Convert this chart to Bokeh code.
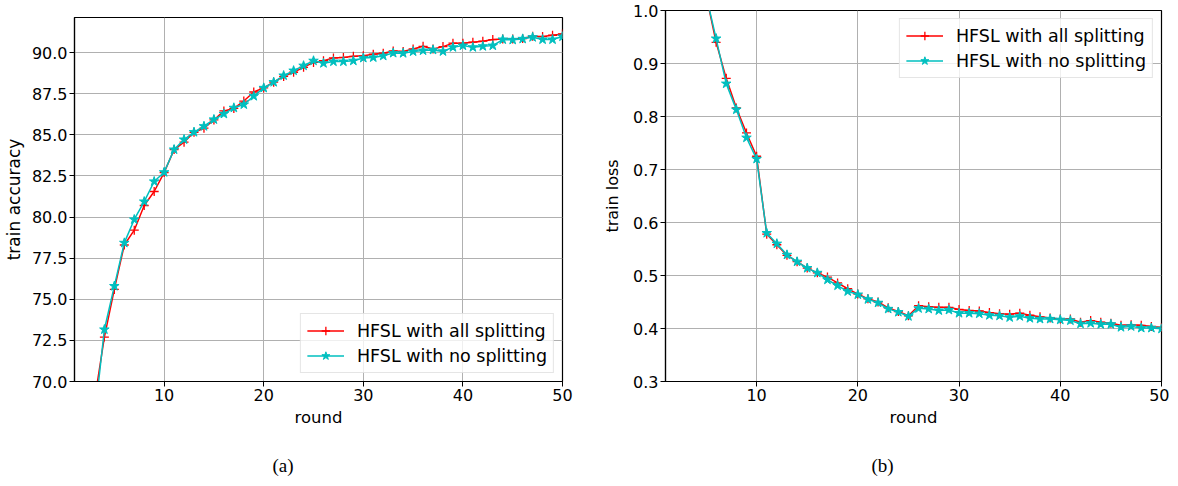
from bokeh.plotting import figure
from bokeh.layouts import row, column
from bokeh.models import FixedTicker, NumeralTickFormatter, Title, Range1d, Spacer
from bokeh.embed import file_html
from bokeh.resources import INLINE

rounds = list(range(1, 51))

acc_all = [50.0, 62.0, 68.8, 72.7, 75.6, 78.3, 79.2, 80.7, 81.55, 82.7,
           84.1, 84.55, 85.15, 85.4, 85.9, 86.45, 86.6, 87.05, 87.6, 87.85,
           88.2, 88.55, 88.8, 89.1, 89.4, 89.5, 89.67, 89.7, 89.77, 89.8,
           89.9, 89.96, 90.1, 90.07, 90.22, 90.38, 90.22, 90.36, 90.57, 90.57,
           90.63, 90.69, 90.79, 90.83, 90.83, 90.85, 90.99, 90.97, 91.05, 91.13]
acc_none = [49.0, 61.0, 67.7, 73.16, 75.8, 78.43, 79.85, 80.94, 82.16, 82.72,
            84.1, 84.71, 85.16, 85.52, 85.93, 86.27, 86.64, 86.84, 87.35, 87.85,
            88.2, 88.6, 88.9, 89.2, 89.5, 89.35, 89.45, 89.45, 89.5, 89.67,
            89.7, 89.8, 89.97, 89.96, 90.06, 90.12, 90.16, 90.07, 90.32, 90.42,
            90.32, 90.38, 90.42, 90.79, 90.77, 90.83, 90.93, 90.79, 90.79, 90.97]

loss_all = [2.0, 1.6, 1.35, 1.15, 1.03, 0.94, 0.872, 0.816, 0.769, 0.725,
            0.578, 0.558, 0.538, 0.526, 0.514, 0.505, 0.497, 0.486, 0.475, 0.465,
            0.456, 0.45, 0.439, 0.432, 0.424, 0.443, 0.441, 0.440, 0.440, 0.436,
            0.434, 0.433, 0.430, 0.428, 0.427, 0.429, 0.425, 0.422, 0.420, 0.418,
            0.418, 0.412, 0.415, 0.412, 0.410, 0.406, 0.407, 0.406, 0.404, 0.402]
loss_none = [2.0, 1.6, 1.34, 1.14, 1.03, 0.947, 0.862, 0.813, 0.76, 0.72,
             0.58, 0.56, 0.539, 0.526, 0.514, 0.505, 0.492, 0.481, 0.470, 0.464,
             0.455, 0.4485, 0.437, 0.431, 0.423, 0.438, 0.437, 0.434, 0.435, 0.429,
             0.429, 0.428, 0.425, 0.424, 0.421, 0.423, 0.4195, 0.418, 0.418, 0.4165,
             0.415, 0.409, 0.410, 0.408, 0.408, 0.4025, 0.404, 0.401, 0.401, 0.3994]

round_ticks = [10, 20, 30, 40, 50]
acc_ticks = [70.0, 72.5, 75.0, 77.5, 80.0, 82.5, 85.0, 87.5, 90.0]
loss_ticks = [0.3, 0.4, 0.5, 0.6, 0.7, 0.8, 0.9, 1.0]

series_names = ["HFSL with all splitting", "HFSL with no splitting"]
captions = ["(a)", "(b)"]

RED = "#ff0000"
CYAN = "#00bfbf"
TICK_FONT = "DejaVu Sans"


def make_fig(y_all, y_none, y_range, y_ticks, y_label, caption, legend_loc,
             frame_w, frame_h, bl, bt, br, cap_offset, ylab_size, ylab_standoff):
    p = figure(output_backend="svg", toolbar_location=None,
               frame_width=frame_w, frame_height=frame_h,
               x_range=Range1d(1, 50), y_range=Range1d(*y_range),
               min_border_left=bl, min_border_top=bt, min_border_right=br,
               min_border_bottom=20, background_fill_color="white",
               border_fill_color="white")
    p.outline_line_color = "black"
    p.outline_line_width = 1.2

    p.line(rounds, y_all, line_color=RED, line_width=1.5, legend_label=series_names[0])
    p.scatter(rounds, y_all, marker="cross", size=9, line_color=RED, line_width=1.3,
              legend_label=series_names[0])
    p.line(rounds, y_none, line_color=CYAN, line_width=1.5, legend_label=series_names[1])
    p.scatter(rounds, y_none, marker="star", size=10, line_color=CYAN, fill_color=CYAN,
              line_width=1, legend_label=series_names[1])

    p.xaxis.ticker = FixedTicker(ticks=round_ticks)
    p.yaxis.ticker = FixedTicker(ticks=y_ticks)
    p.yaxis.formatter = NumeralTickFormatter(format="0.0")
    for ax in (p.xaxis[0], p.yaxis[0]):
        ax.axis_line_color = "black"
        ax.axis_line_width = 1.2
        ax.major_tick_in = 0
        ax.major_tick_out = 5
        ax.major_tick_line_color = "black"
        ax.minor_tick_line_color = None
        ax.major_label_text_font = TICK_FONT
        ax.major_label_text_font_size = "16px"
        ax.major_label_text_color = "black"
        ax.axis_label_text_font = TICK_FONT
        ax.axis_label_text_font_style = "normal"
        ax.axis_label_text_color = "black"
        ax.major_label_standoff = 2
    p.xaxis.axis_label = "round"
    p.xaxis.axis_label_text_font_size = "16.5px"
    p.xaxis.axis_label_standoff = 4
    p.yaxis.axis_label = y_label
    p.yaxis.axis_label_text_font_size = ylab_size
    p.yaxis.axis_label_standoff = ylab_standoff

    p.xgrid.ticker = FixedTicker(ticks=round_ticks)
    p.ygrid.ticker = FixedTicker(ticks=y_ticks)
    p.grid.grid_line_color = "#b0b0b0"
    p.grid.grid_line_width = 1

    lg = p.legend[0]
    lg.location = legend_loc
    lg.margin = 8
    lg.padding = 6
    lg.spacing = 4
    lg.label_height = 21
    lg.glyph_height = 21
    lg.glyph_width = 37
    lg.label_standoff = 13
    lg.label_text_font = TICK_FONT
    lg.label_text_font_size = "17.5px"
    lg.label_text_color = "black"
    lg.border_line_color = "#cccccc"
    lg.border_line_width = 1
    lg.background_fill_color = "white"
    lg.background_fill_alpha = 0.8

    t = Title(text=caption, align="left", offset=cap_offset, standoff=47,
              text_font="Liberation Serif", text_font_size="19px",
              text_font_style="normal", text_color="black")
    p.add_layout(t, "below")
    return p


p1 = make_fig(acc_all, acc_none, (70, 92.13), acc_ticks, "train accuracy", captions[0],
              "bottom_right", 488, 364, 67, 10, 35, 198, "17px", 5)
p2 = make_fig(loss_all, loss_none, (0.3, 1.0), loss_ticks, "train loss", captions[1],
              "top_right", 496, 371, 68, 10, 8, 206, "16px", 8)

layout = row(column(Spacer(height=7), p1), p2)
open("out.html", "w").write(file_html(layout, INLINE))
